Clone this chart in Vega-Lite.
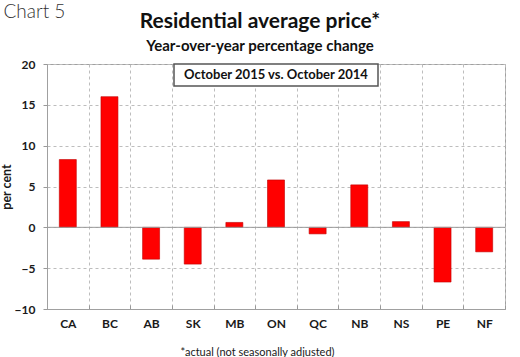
{
  "$schema": "https://vega.github.io/schema/vega-lite/v6.json",
  "width": 458,
  "height": 245,
  "autosize": {"type": "none"},
  "padding": {"left": 47, "top": 64, "right": 15, "bottom": 48},
  "background": "white",
  "config": {
    "font": "Lato",
    "view": {"stroke": "#a0a0a0", "strokeWidth": 1},
    "axis": {"labelColor": "#1a1a1a", "titleColor": "#1a1a1a"}
  },
  "title": {
    "text": "Residential average price*",
    "subtitle": "Year-over-year percentage change",
    "fontSize": 21,
    "fontWeight": "bold",
    "color": "#111",
    "subtitleFontSize": 15,
    "subtitleFontWeight": "bold",
    "subtitleColor": "#111",
    "subtitlePadding": 7,
    "anchor": "middle",
    "dx": -16,
    "dy": 62,
    "offset": 10
  },
  "datasets": {
    "main": [
      {"region": "CA", "change": 8.3},
      {"region": "BC", "change": 16.0},
      {"region": "AB", "change": -3.9},
      {"region": "SK", "change": -4.5},
      {"region": "MB", "change": 0.6},
      {"region": "ON", "change": 5.8},
      {"region": "QC", "change": -0.8},
      {"region": "NB", "change": 5.2},
      {"region": "NS", "change": 0.7},
      {"region": "PE", "change": -6.7},
      {"region": "NF", "change": -3.0}
    ],
    "note": [
      {"region": "ON", "top": 20, "bottom": 17.3, "mid": 18.65, "label": "October 2015 vs. October 2014"}
    ],
    "zero": [{"v": 0}]
  },
  "resolve": {"axis": {"x": "independent"}},
  "layer": [
    {
      "data": {"name": "main"},
      "mark": {"type": "bar", "size": 17, "color": "#ff0000", "stroke": "#c00000", "strokeWidth": 0.6},
      "encoding": {
        "x": {
          "field": "region",
          "type": "nominal",
          "sort": ["CA","BC","AB","SK","MB","ON","QC","NB","NS","PE","NF"],
          "scale": {"paddingInner": 0, "paddingOuter": 0},
          "axis": {
            "orient": "bottom",
            "labelAngle": 0,
            "labelFontWeight": "bold",
            "labelFontSize": 12,
            "labelPadding": 13,
            "grid": true,
            "gridDash": [3, 3],
            "gridColor": "#bdbdbd",
            "tickBand": "extent",
            "ticks": true,
            "tickSize": -4,
            "tickColor": "#999",
            "domainColor": "#a0a0a0",
            "title": "*actual (not seasonally adjusted)",
            "titleFontWeight": "normal",
            "titleFontSize": 11,
            "titlePadding": 17,
            "titleX": 210
          }
        },
        "y": {
          "field": "change",
          "type": "quantitative",
          "scale": {"domain": [-10, 20], "nice": false},
          "axis": {
            "values": [-10, -5, 0, 5, 10, 15, 20],
            "grid": true,
            "gridDash": [3, 3],
            "gridColor": "#bdbdbd",
            "labelFontWeight": "bold",
            "labelFontSize": 12,
            "labelPadding": 8,
            "tickSize": 4,
            "tickColor": "#999",
            "domainColor": "#a0a0a0",
            "title": "per cent",
            "titleFontSize": 12.5,
            "titleFontWeight": "bold",
            "titlePadding": 1
          }
        }
      }
    },
    {
      "data": {"name": "zero"},
      "mark": {"type": "rule", "color": "#9a9a9a", "strokeWidth": 1},
      "encoding": {"y": {"field": "v", "type": "quantitative"}}
    },
    {
      "data": {"name": "note"},
      "mark": {"type": "bar", "size": 204, "fill": "white", "stroke": "#555", "strokeWidth": 1.5},
      "encoding": {
        "x": {
          "field": "region",
          "type": "nominal",
          "sort": ["CA","BC","AB","SK","MB","ON","QC","NB","NS","PE","NF"],
          "axis": {
            "orient": "top",
            "labels": false,
            "ticks": false,
            "domain": false,
            "grid": false,
            "title": "Chart 5",
            "titleFontSize": 19,
            "titleFontWeight": 300,
            "titleColor": "#333",
            "titleAnchor": "start",
            "titleAlign": "left",
            "titleBaseline": "alphabetic",
            "titleX": -44,
            "titleY": -47
          }
        },
        "y": {"field": "top", "type": "quantitative"},
        "y2": {"field": "bottom"}
      }
    },
    {
      "data": {"name": "note"},
      "mark": {"type": "text", "fontWeight": "bold", "fontSize": 13, "color": "#111"},
      "encoding": {
        "x": {
          "field": "region",
          "type": "nominal",
          "sort": ["CA","BC","AB","SK","MB","ON","QC","NB","NS","PE","NF"],
          "axis": null
        },
        "y": {"field": "mid", "type": "quantitative"},
        "text": {"field": "label"}
      }
    }
  ]
}
